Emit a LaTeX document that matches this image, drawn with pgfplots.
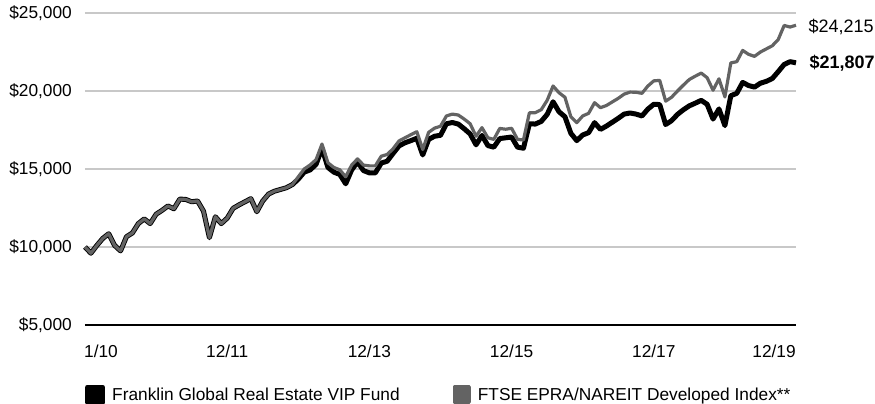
\documentclass[border=0pt]{standalone}
\usepackage{pgfplots}
\pgfplotsset{compat=1.18}
\usepackage{pgfplotstable}
\usepackage{fontspec}
\setmainfont{Liberation Sans}
\definecolor{idxgray}{HTML}{636363}
\definecolor{gridgray}{HTML}{C8C8C8}

\pgfplotstableread{
i fund index
0 10000 10000
1 9600 9600
2 10100 10100
3 10550 10550
4 10850 10850
5 10100 10100
6 9750 9750
7 10660 10660
8 10900 10900
9 11500 11500
10 11800 11800
11 11500 11500
12 12100 12100
13 12350 12350
14 12630 12630
15 12450 12450
16 13070 13070
17 13050 13050
18 12900 12900
19 12950 12950
20 12300 12300
21 10600 10600
22 11940 11940
23 11500 11500
24 11850 11850
25 12480 12480
26 12700 12700
27 12900 12900
28 13100 13100
29 12260 12260
30 12950 12950
31 13400 13400
32 13580 13580
33 13690 13690
34 13800 13800
35 14000 14000
36 14350 14500
37 14800 15000
38 14940 15260
39 15300 15600
40 16330 16600
41 15100 15400
42 14800 15100
43 14650 14950
44 14050 14500
45 14940 15250
46 15450 15650
47 14900 15250
48 14750 15200
49 14750 15200
50 15380 15820
51 15500 15930
52 16000 16300
53 16480 16800
54 16680 17000
55 16820 17200
56 16970 17390
57 15900 16250
58 16900 17350
59 17100 17620
60 17160 17740
61 17900 18400
62 17980 18520
63 17880 18460
64 17580 18200
65 17250 17900
66 16550 17100
67 17150 17650
68 16500 17000
69 16400 16900
70 16950 17600
71 17000 17550
72 17050 17610
73 16400 16900
74 16330 16860
75 17900 18600
76 17880 18610
77 18050 18800
78 18500 19400
79 19310 20320
80 18670 19890
81 18350 19600
82 17290 18350
83 16820 17970
84 17180 18400
85 17330 18570
86 17970 19250
87 17540 18930
88 17750 19070
89 18000 19300
90 18250 19530
91 18520 19800
92 18590 19930
93 18520 19920
94 18400 19850
95 18840 20320
96 19150 20650
97 19130 20680
98 17850 19350
99 18100 19600
100 18500 20000
101 18800 20380
102 19050 20740
103 19220 20950
104 19400 21150
105 19150 20850
106 18200 20050
107 18850 20780
108 17780 19620
109 19700 21800
110 19850 21880
111 20550 22600
112 20350 22350
113 20250 22220
114 20500 22500
115 20620 22700
116 20800 22900
117 21240 23300
118 21700 24200
119 21880 24100
120 21807 24215
}\data

\begin{document}
\begin{tikzpicture}
\useasboundingbox (-85pt,-79pt) rectangle (790pt,325pt);
\begin{axis}[
  scale only axis, width=711pt, height=312pt,
  xmin=0, xmax=120, ymin=5000, ymax=25000,
  scaled y ticks=false, scaled x ticks=false,
  axis line style={draw=none},
  major tick length=0pt,
  ytick={5000,10000,15000,20000,25000},
  yticklabels={{\$5,000},{\$10,000},{\$15,000},{\$20,000},{\$25,000}},
  extra y ticks={5000}, extra y tick labels={},
  extra y tick style={grid style={black, line width=1.4pt}},
  ymajorgrids, grid style={gridgray, line width=1.4pt},
  xtick={2.7,24,48,72,96,116.3},
  xticklabels={1/10,12/11,12/13,12/15,12/17,12/19},
  tick label style={font=\fontsize{17.3}{20}\selectfont, inner sep=0pt},
  yticklabel style={anchor=east, xshift=-13pt},
  xticklabel style={anchor=north, yshift=-20pt},
  clip=false,
  legend columns=2,
  legend style={draw=none, fill=none, at={(0,0)}, anchor=west, yshift=-69.5pt,
    inner sep=0pt, font=\fontsize{17.3}{20}\selectfont,
    nodes={inner sep=0pt},
    /tikz/every even column/.append style={column sep=53pt}},
]
\addplot[black, line width=5pt, line join=round,
  legend image code/.code={\fill[black] (0pt,-7.5pt) rectangle (15pt,7.5pt); \path (22pt,0pt);}]
  table[x=i, y=fund] {\data}
  node[pos=1, anchor=west, xshift=11pt, inner sep=0pt, font=\fontsize{18}{20}\selectfont\bfseries] {\$21,807};
\addlegendentry{Franklin Global Real Estate VIP Fund}
\addplot[idxgray, line width=3.2pt, line join=round,
  legend image code/.code={\fill[idxgray] (0pt,-7.5pt) rectangle (15pt,7.5pt); \path (22pt,0pt);}]
  table[x=i, y=index] {\data}
  node[pos=1, anchor=west, xshift=11pt, yshift=-2pt, inner sep=0pt, text=black, font=\fontsize{18}{20}\selectfont] {\$24,215};
\addlegendentry{FTSE EPRA/NAREIT Developed Index**}
\end{axis}
\end{tikzpicture}
\end{document}
